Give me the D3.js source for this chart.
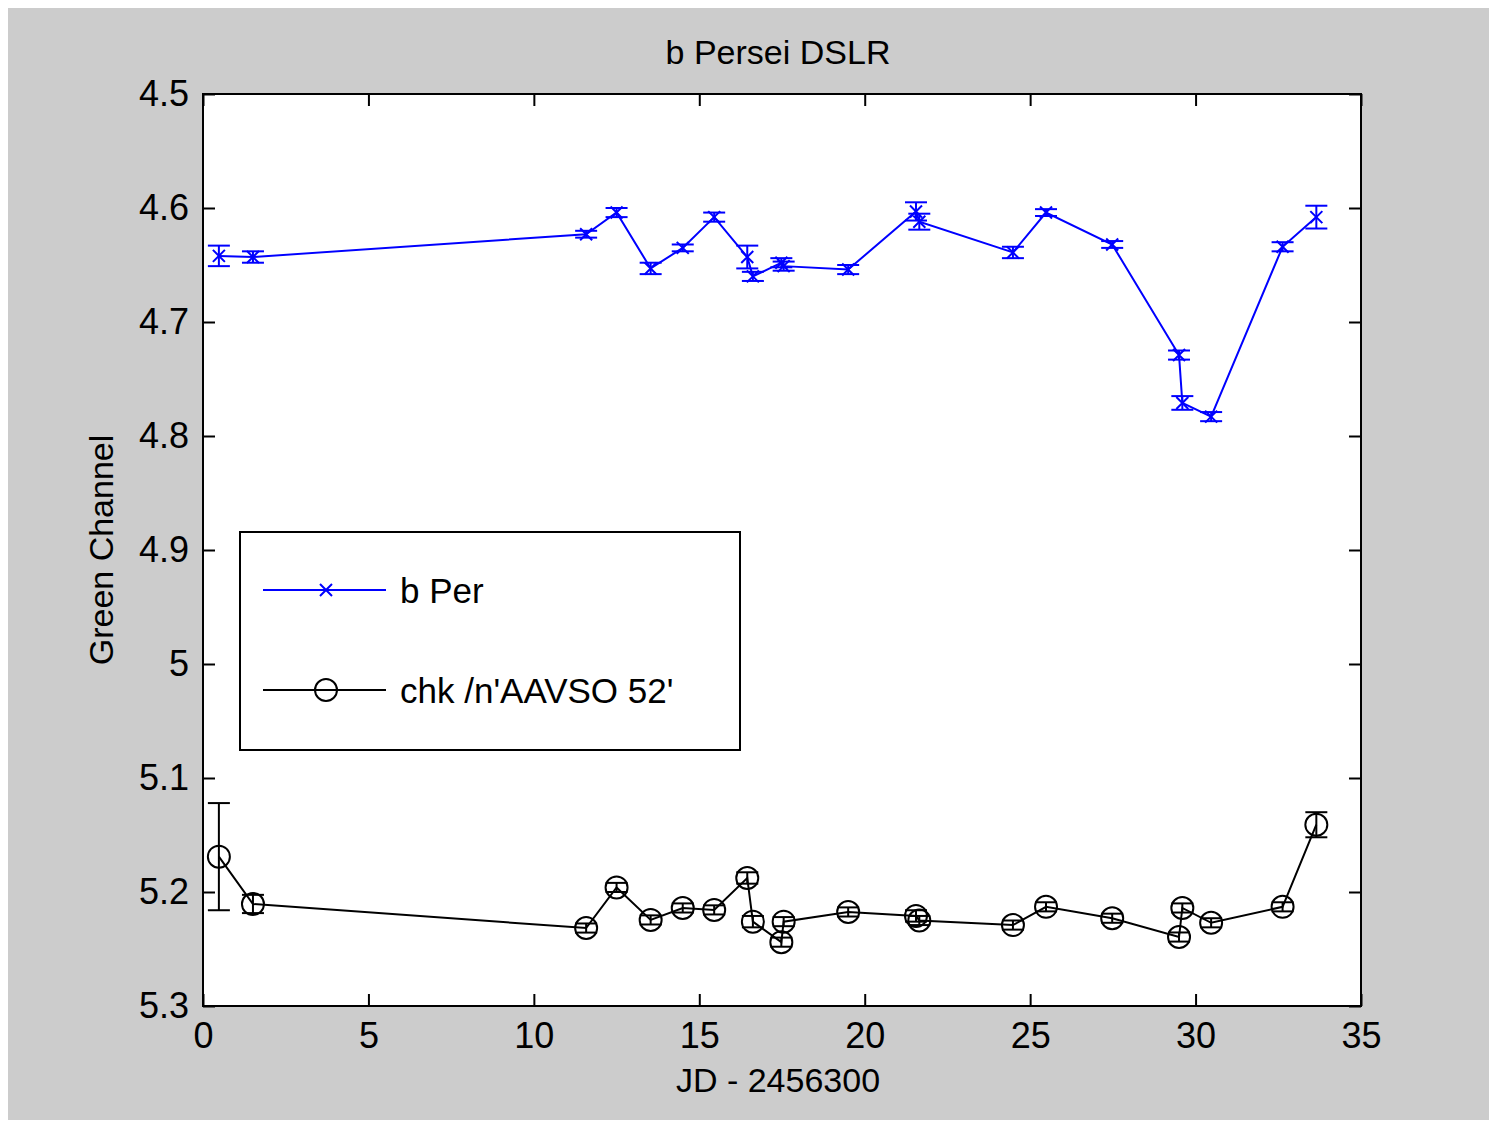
<!DOCTYPE html>
<html>
<head>
<meta charset="utf-8">
<script src="https://cdn.jsdelivr.net/npm/d3@7"></script>
<style>
  body { margin: 0; background: #fff; }
  svg { display: block; }
  text { font-family: "Liberation Sans", Arial, sans-serif; fill: #000; }
</style>
</head>
<body>
<svg id="chart" width="1489" height="1122"></svg>
<script>
// observation times (JD - 2456300)
const jd = [0.48, 1.51, 11.58, 12.5, 13.53, 14.5, 15.45, 16.45, 16.62, 17.48, 17.55,
            19.5, 21.55, 21.65, 24.48, 25.48, 27.48, 29.5, 29.6, 30.47, 32.63, 33.65];
// b Per magnitudes and errors
const bPer = [4.642, 4.643, 4.623, 4.604, 4.653, 4.635, 4.608, 4.643, 4.660, 4.648, 4.651,
              4.654, 4.603, 4.612, 4.639, 4.604, 4.632, 4.729, 4.771, 4.783, 4.634, 4.608];
const bPerErr = [0.009, 0.005, 0.003, 0.004, 0.005, 0.003, 0.004, 0.010, 0.004, 0.004, 0.004,
                 0.004, 0.008, 0.007, 0.005, 0.003, 0.003, 0.004, 0.006, 0.004, 0.004, 0.010];
// check star
const chk = [5.169, 5.2105, 5.2316, 5.196, 5.2245, 5.214, 5.2157, 5.1877, 5.226, 5.244, 5.226,
             5.2175, 5.221, 5.225, 5.229, 5.213, 5.223, 5.2395, 5.214, 5.227, 5.213, 5.141];
const chkErr = [0.047, 0.008, 0.004, 0.004, 0.004, 0.004, 0.004, 0.005, 0.005, 0.004, 0.004,
                0.004, 0.005, 0.004, 0.004, 0.004, 0.004, 0.004, 0.004, 0.004, 0.004, 0.011];

const xTicks = [0, 5, 10, 15, 20, 25, 30, 35];
const yTicks = [4.5, 4.6, 4.7, 4.8, 4.9, 5, 5.1, 5.2, 5.3];

const svg = d3.select("#chart");
const margin = { top: 94, right: 128, bottom: 116, left: 203 };
const width = 1489, height = 1122;

svg.append("rect").attr("x", 8).attr("y", 8)
  .attr("width", width - 8).attr("height", height - 10)
  .attr("fill", "#cccccc");

const x = d3.scaleLinear().domain([0, 35]).range([margin.left, width - margin.right]);
const y = d3.scaleLinear().domain([4.5, 5.3]).range([margin.top, height - margin.bottom]);

svg.append("rect")
  .attr("x", x(0)).attr("y", y(4.5))
  .attr("width", x(35) - x(0)).attr("height", y(5.3) - y(4.5))
  .attr("fill", "#fff");

const fmt = d => d3.format("~g")(d);
const tickLen = 12;

// axes (ticks inward, box)
svg.append("g").attr("transform", `translate(0,${y(5.3)})`)
  .call(d3.axisBottom(x).tickValues(xTicks).tickSizeInner(-tickLen).tickSizeOuter(0).tickPadding(16).tickFormat(fmt))
  .call(g => g.selectAll("text").attr("font-size", "36px").attr("font-family", null))
  .call(g => g.select(".domain").remove());
svg.append("g").attr("transform", `translate(0,${y(4.5)})`)
  .call(d3.axisTop(x).tickValues(xTicks).tickSizeInner(-tickLen).tickSizeOuter(0).tickFormat(""))
  .call(g => g.select(".domain").remove());
svg.append("g").attr("transform", `translate(${x(0)},0)`)
  .call(d3.axisLeft(y).tickValues(yTicks).tickSizeInner(-tickLen).tickSizeOuter(0).tickPadding(14).tickFormat(fmt))
  .call(g => g.selectAll("text").attr("font-size", "36px").attr("font-family", null))
  .call(g => g.select(".domain").remove());
svg.append("g").attr("transform", `translate(${x(35)},0)`)
  .call(d3.axisRight(y).tickValues(yTicks).tickSizeInner(-tickLen).tickSizeOuter(0).tickFormat(""))
  .call(g => g.select(".domain").remove());
svg.selectAll(".tick line").attr("stroke", "#000").attr("stroke-width", 2);

svg.append("rect")
  .attr("x", x(0)).attr("y", y(4.5))
  .attr("width", x(35) - x(0)).attr("height", y(5.3) - y(4.5))
  .attr("fill", "none").attr("stroke", "#000").attr("stroke-width", 2);

// series
const capW = 11;
function drawSeries(ys, errs, color, marker) {
  const pts = jd.map((t, i) => ({ t, v: ys[i], e: errs[i] }));
  const g = svg.append("g");
  g.append("path").datum(pts)
    .attr("fill", "none").attr("stroke", color).attr("stroke-width", 2)
    .attr("d", d3.line().x(d => x(d.t)).y(d => y(d.v)));
  const eb = g.selectAll(".eb").data(pts).join("g")
    .attr("stroke", color).attr("stroke-width", 2);
  eb.append("line").attr("x1", d => x(d.t)).attr("x2", d => x(d.t))
    .attr("y1", d => y(d.v - d.e)).attr("y2", d => y(d.v + d.e));
  eb.append("line").attr("x1", d => x(d.t) - capW).attr("x2", d => x(d.t) + capW)
    .attr("y1", d => y(d.v - d.e)).attr("y2", d => y(d.v - d.e));
  eb.append("line").attr("x1", d => x(d.t) - capW).attr("x2", d => x(d.t) + capW)
    .attr("y1", d => y(d.v + d.e)).attr("y2", d => y(d.v + d.e));
  pts.forEach(d => marker(g, x(d.t), y(d.v)));
}

function xMark(g, cx, cy) {
  const s = 6;
  g.append("path").attr("d", `M${cx - s},${cy - s}L${cx + s},${cy + s}M${cx - s},${cy + s}L${cx + s},${cy - s}`)
    .attr("stroke", "#0000ff").attr("stroke-width", 2).attr("fill", "none");
}
function oMark(g, cx, cy) {
  g.append("circle").attr("cx", cx).attr("cy", cy).attr("r", 11)
    .attr("stroke", "#000").attr("stroke-width", 2).attr("fill", "none");
}

drawSeries(bPer, bPerErr, "#0000ff", xMark);
drawSeries(chk, chkErr, "#000", oMark);

// title and labels
svg.append("text").attr("x", (x(0) + x(35)) / 2 - 4).attr("y", 64)
  .attr("text-anchor", "middle").attr("font-size", "34px").text("b Persei DSLR");
svg.append("text").attr("x", (x(0) + x(35)) / 2 - 4).attr("y", 1092)
  .attr("text-anchor", "middle").attr("font-size", "34px").text("JD - 2456300");
svg.append("text").attr("transform", `translate(113,550) rotate(-90)`)
  .attr("text-anchor", "middle").attr("font-size", "34px").text("Green Channel");

// legend
const leg = svg.append("g");
leg.append("rect").attr("x", 240).attr("y", 532).attr("width", 500).attr("height", 218)
  .attr("fill", "#fff").attr("stroke", "#000").attr("stroke-width", 2);
const legItems = [
  { label: "b Per", color: "#0000ff", marker: xMark, cy: 590 },
  { label: "chk /n'AAVSO 52'", color: "#000", marker: oMark, cy: 690 }
];
legItems.forEach(d => {
  leg.append("line").attr("x1", 263).attr("x2", 386).attr("y1", d.cy).attr("y2", d.cy)
    .attr("stroke", d.color).attr("stroke-width", 2);
  d.marker(leg, 326, d.cy);
  leg.append("text").attr("x", 400).attr("y", d.cy).attr("dy", "0.36em")
    .attr("font-size", "35px").text(d.label);
});
</script>
</body>
</html>
